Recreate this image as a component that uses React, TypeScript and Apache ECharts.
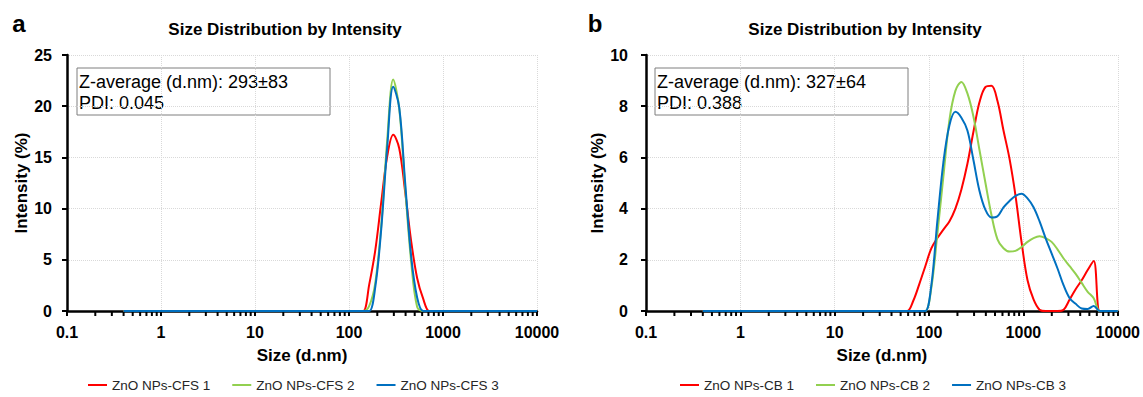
import React, { useEffect, useRef } from "react";
import * as echarts from "echarts";

// Malvern size classes (d.nm)
const sizes = [
  0.4, 0.4632, 0.5365, 0.6213, 0.7195, 0.8332, 0.9649, 1.117, 1.294, 1.499,
  1.736, 2.01, 2.328, 2.696, 3.122, 3.615, 4.187, 4.849, 5.615, 6.503,
  7.531, 8.721, 10.1, 11.7, 13.54, 15.69, 18.17, 21.04, 24.36, 28.21,
  32.67, 37.84, 43.82, 50.75, 58.77, 68.06, 78.82, 91.28, 105.7, 122.4,
  141.8, 164.2, 190.1, 220.2, 255.0, 295.3, 342.0, 396.1, 458.7, 531.2,
  615.1, 712.4, 825.0, 955.4, 1106, 1281, 1484, 1718, 1990, 2305,
  2669, 3091, 3580, 4145, 4801, 5560, 6439, 7456, 8635, 10000,
];

// Panel a: ZnO NPs-CFS (intensity %)
const cfs1 = [
  0, 0, 0, 0, 0, 0, 0, 0, 0, 0,
  0, 0, 0, 0, 0, 0, 0, 0, 0, 0,
  0, 0, 0, 0, 0, 0, 0, 0, 0, 0,
  0, 0, 0, 0, 0, 0, 0, 0, 0, 0,
  0, 2.6, 5.9, 10.6, 15.1, 17.2, 15.9, 11.6, 6.8, 3.2,
  1.2, 0, 0, 0, 0, 0, 0, 0, 0, 0,
  0, 0, 0, 0, 0, 0, 0, 0, 0, 0,
];
const cfs2 = [
  0, 0, 0, 0, 0, 0, 0, 0, 0, 0,
  0, 0, 0, 0, 0, 0, 0, 0, 0, 0,
  0, 0, 0, 0, 0, 0, 0, 0, 0, 0,
  0, 0, 0, 0, 0, 0, 0, 0, 0, 0,
  0, 0.5, 2.7, 8.3, 16.7, 22.6, 19.8, 12.0, 4.8, 0.4,
  0, 0, 0, 0, 0, 0, 0, 0, 0, 0,
  0, 0, 0, 0, 0, 0, 0, 0, 0, 0,
];
const cfs3 = [
  0, 0, 0, 0, 0, 0, 0, 0, 0, 0,
  0, 0, 0, 0, 0, 0, 0, 0, 0, 0,
  0, 0, 0, 0, 0, 0, 0, 0, 0, 0,
  0, 0, 0, 0, 0, 0, 0, 0, 0, 0,
  0, 0, 2.3, 8.0, 16.0, 21.9, 19.9, 12.5, 5.3, 1.3,
  0, 0, 0, 0, 0, 0, 0, 0, 0, 0,
  0, 0, 0, 0, 0, 0, 0, 0, 0, 0,
];

// Panel b: ZnO NPs-CB (intensity %)
const cb1 = [
  0, 0, 0, 0, 0, 0, 0, 0, 0, 0,
  0, 0, 0, 0, 0, 0, 0, 0, 0, 0,
  0, 0, 0, 0, 0, 0, 0, 0, 0, 0,
  0, 0, 0, 0, 0, 0.4, 1.05, 1.75, 2.45, 2.85,
  3.18, 3.5, 4.0, 4.75, 5.75, 7.0, 8.15, 8.75, 8.8, 8.2,
  7.05, 5.95, 4.5, 2.7, 1.2, 0.45, 0.05, 0, 0, 0,
  0.05, 0.45, 0.85, 1.2, 1.6, 1.95, 0, 0, 0, 0,
];
const cb2 = [
  0, 0, 0, 0, 0, 0, 0, 0, 0, 0,
  0, 0, 0, 0, 0, 0, 0, 0, 0, 0,
  0, 0, 0, 0, 0, 0, 0, 0, 0, 0,
  0, 0, 0, 0, 0, 0, 0, 0, 0.9, 3.0,
  5.25, 7.45, 8.6, 8.95, 8.5, 7.6, 6.3, 5.0, 3.75, 2.8,
  2.45, 2.32, 2.35, 2.5, 2.7, 2.85, 2.92, 2.85, 2.7, 2.4,
  2.05, 1.75, 1.45, 1.1, 0.75, 0.5, 0, 0, 0, 0,
];
const cb3 = [
  0, 0, 0, 0, 0, 0, 0, 0, 0, 0,
  0, 0, 0, 0, 0, 0, 0, 0, 0, 0,
  0, 0, 0, 0, 0, 0, 0, 0, 0, 0,
  0, 0, 0, 0, 0, 0, 0, 0, 1.0, 3.5,
  5.8, 7.25, 7.78, 7.55, 7.05, 5.9, 4.7, 3.95, 3.65, 3.7,
  4.05, 4.3, 4.5, 4.58, 4.4, 4.05, 3.5, 2.85, 2.25, 1.65,
  1.0, 0.5, 0.28, 0.1, 0.08, 0.2, 0, 0, 0, 0,
];

const namesA = ["ZnO NPs-CFS 1", "ZnO NPs-CFS 2", "ZnO NPs-CFS 3"];
const namesB = ["ZnO NPs-CB 1", "ZnO NPs-CB 2", "ZnO NPs-CB 3"];
const colors = ["#FF0000", "#92D050", "#0070C0"];
const xTickLabels = ["0.1", "1", "10", "100", "1000", "10000"];
const decades = [0.1, 1, 10, 100, 1000];
const minorSteps = [2, 3, 4, 5, 6, 7, 8, 9];
const minorTicks = decades.flatMap((d) => minorSteps.map((m) => +(d * m).toPrecision(3)));

const FONT = '"Liberation Sans", Arial, Helvetica, sans-serif';

function lineSeries(name: string, values: number[], color: string, gi: number) {
  return {
    type: "line",
    name,
    xAxisIndex: gi,
    yAxisIndex: gi,
    data: sizes.map((s, i) => [s, values[i]]),
    smooth: 0.35,
    symbol: "none",
    lineStyle: { color, width: 2 },
    itemStyle: { color },
    z: 3,
  };
}

function minorTickSeries(gi: number) {
  return {
    type: "custom",
    xAxisIndex: gi,
    yAxisIndex: gi,
    silent: true,
    clip: false,
    z: 4,
    data: minorTicks.map((v) => [v, 0]),
    renderItem: (params: any, api: any) => {
      const p = api.coord([api.value(0), 0]);
      return {
        type: "line",
        shape: { x1: p[0], y1: p[1] + 1, x2: p[0], y2: p[1] + 5 },
        style: { stroke: "#000", lineWidth: 2 },
      };
    },
  };
}

function xAxis(gi: number) {
  return {
    type: "log",
    gridIndex: gi,
    logBase: 10,
    min: 0.1,
    max: 10000,
    name: "Size (d.nm)",
    nameLocation: "middle",
    nameGap: 36,
    nameTextStyle: { fontFamily: FONT, fontSize: 17, fontWeight: "bold", color: "#000" },
    axisLine: { show: true, onZero: false, lineStyle: { color: "#000", width: 2.5 } },
    axisTick: { show: true, inside: false, length: 5, lineStyle: { color: "#000", width: 2 } },
    axisLabel: {
      show: true,
      interval: 0,
      margin: 13,
      fontFamily: FONT,
      fontSize: 16,
      fontWeight: "bold",
      color: "#000",
      formatter: (v: number) => {
        const idx = Math.round(Math.log10(v)) + 1;
        return xTickLabels[idx] ?? String(v);
      },
    },
    splitLine: { show: true, lineStyle: { color: "#d9d9d9", type: "dotted", width: 1 } },
  };
}

function yAxis(gi: number, max: number, interval: number, margin: number) {
  return {
    type: "value",
    gridIndex: gi,
    min: 0,
    max,
    interval,
    name: "Intensity (%)",
    nameLocation: "middle",
    nameGap: 37,
    nameTextStyle: { fontFamily: FONT, fontSize: 17, fontWeight: "bold", color: "#000" },
    axisLine: { show: true, onZero: false, lineStyle: { color: "#000", width: 2.5 } },
    axisTick: { show: true, inside: false, length: 5, lineStyle: { color: "#000", width: 2 } },
    axisLabel: { margin, fontFamily: FONT, fontSize: 16, fontWeight: "bold", color: "#000" },
    splitLine: { show: true, lineStyle: { color: "#d9d9d9", type: "dotted", width: 1 } },
  };
}

function infoBox(x: number, y: number, line1: string, line2: string) {
  return {
    type: "group",
    z: 10,
    children: [
      {
        type: "rect",
        shape: { x, y, width: 253, height: 47 },
        style: { fill: "#fff", stroke: "#7f7f7f", lineWidth: 1 },
      },
      {
        type: "text",
        x: x + 2,
        y: y + 14,
        style: { text: line1, fontFamily: FONT, fontSize: 18, fill: "#000", verticalAlign: "middle", align: "left" },
      },
      {
        type: "text",
        x: x + 2,
        y: y + 35,
        style: { text: line2, fontFamily: FONT, fontSize: 18, fill: "#000", verticalAlign: "middle", align: "left" },
      },
    ],
  };
}

function textEl(text: string, x: number, y: number, size: number, align = "center") {
  return {
    type: "text",
    x,
    y,
    z: 10,
    style: { text, fontFamily: FONT, fontSize: size, fontWeight: "bold", fill: "#000", align, verticalAlign: "middle" },
  };
}

const legendBase = {
  icon: "rect",
  itemWidth: 19,
  itemHeight: 2,
  itemGap: 22,
  top: 378,
  padding: 0,
  textStyle: { fontFamily: FONT, fontSize: 13.5, color: "#262626" },
};

export default function App() {
  const ref = useRef<HTMLDivElement>(null);
  useEffect(() => {
    if (!ref.current) return;
    const chart = echarts.init(ref.current, undefined, { renderer: "svg" });
    chart.setOption({
      animation: false,
      backgroundColor: "#fff",
      grid: [
        { left: 67, top: 55, width: 470, height: 256, containLabel: false },
        { left: 646, top: 55, width: 473, height: 256, containLabel: false },
      ],
      xAxis: [xAxis(0), xAxis(1)],
      yAxis: [yAxis(0, 25, 5, 15), yAxis(1, 10, 2, 18)],
      legend: [
        { ...legendBase, data: namesA, left: 88 },
        { ...legendBase, data: namesB, left: 680 },
      ],
      series: [
        lineSeries(namesA[0], cfs1, colors[0], 0),
        lineSeries(namesA[1], cfs2, colors[1], 0),
        lineSeries(namesA[2], cfs3, colors[2], 0),
        lineSeries(namesB[0], cb1, colors[0], 1),
        lineSeries(namesB[1], cb2, colors[1], 1),
        lineSeries(namesB[2], cb3, colors[2], 1),
        minorTickSeries(0),
        minorTickSeries(1),
      ],
      graphic: [
        textEl("a", 19, 23, 24),
        textEl("b", 595, 23, 24),
        textEl("Size Distribution by Intensity", 285, 29, 17),
        textEl("Size Distribution by Intensity", 865, 29, 17),
        infoBox(77, 68, "Z-average (d.nm): 293±83", "PDI: 0.045"),
        infoBox(655, 68, "Z-average (d.nm): 327±64", "PDI: 0.388"),
      ],
    });
    return () => chart.dispose();
  }, []);
  return (
    <div
      ref={ref}
      style={{ position: "fixed", left: 0, top: 0, width: 1143, height: 397, background: "#fff" }}
    />
  );
}
